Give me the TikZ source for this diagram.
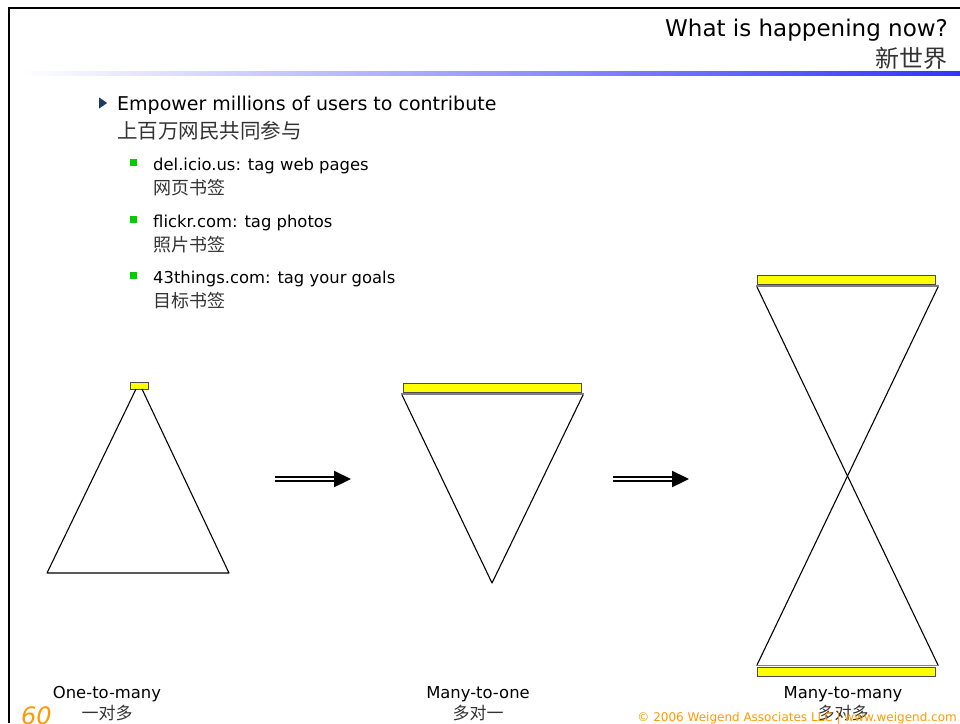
\documentclass[tikz,border=0pt]{standalone}
\usepackage{fontspec}
\setmainfont{DejaVu Sans}
\newfontfamily\cjk{Noto Sans CJK SC}
\usepackage{tikz}
\usetikzlibrary{arrows.meta, positioning, shapes.geometric}
\definecolor{slide-blue}{HTML}{3333FF}
\definecolor{slide-orange}{HTML}{FF9900}
\definecolor{tick-green}{HTML}{00CC00}
\definecolor{tick-navy}{HTML}{1F3864}
\definecolor{tag-yellow}{HTML}{FFFF00}

\begin{document}
\begin{tikzpicture}[x=1pt, y=-1pt,
    title/.style={inner sep=0pt, anchor=base east, font=\fontsize{23}{26}\selectfont},
    body/.style={inner sep=0pt, anchor=base west, font=\fontsize{19}{22}\selectfont},
    sub/.style={inner sep=0pt, anchor=base west, font=\fontsize{16.4}{19}\selectfont},
    zh/.style={inner sep=0pt, text=black!80},
    caption/.style={inner sep=0pt, anchor=base, font=\fontsize{16.4}{19}\selectfont},
    arrowhd/.style={draw=none, fill=tick-navy, isosceles triangle, isosceles triangle apex angle=70, minimum height=8pt, inner sep=0pt},
    square/.style={draw=none, fill=tick-green, minimum size=7pt, inner sep=0pt},
    tag/.style={draw=black!70, fill=tag-yellow, line width=1pt, inner sep=0pt, minimum width=178pt, minimum height=9pt},
    rim/.style={draw=black!50, line width=1.5pt},
    funnel/.style={draw=black, line width=1.1pt, line join=round},
    fatarrow/.style={draw=black, double=white, double distance=1.6pt, line width=2.3pt, -{Triangle[length=17pt, width=16pt]}}
]
    \useasboundingbox (0,0) rectangle (960,723);

    % Slide frame and header
    \draw[line width=2pt] (9,723) -- (9,8) -- (960,8);
    \shade[left color=white, right color=slide-blue] (20,71) rectangle (960,75);
    \node (head) [title] at (948,36) {What is happening now?};
    \node (headzh) [title, zh, font=\cjk\fontsize{24}{26}\selectfont] at (948,67) {新世界};

    % Bullet list
    \node (b0) [arrowhd] at (102,103) {};
    \node (l0) [body] at (117,110) {Empower millions of users to contribute};
    \node (l0zh) [zh, anchor=base west, font=\cjk\fontsize{20.5}{24}\selectfont] at (117,138) {上百万网民共同参与};

    \foreach \y/\en/\cn [count=\i] in {170/{del.icio.us: tag web pages}/网页书签,
                                     227/{flickr.com: tag photos}/照片书签,
                                     283/{43things.com: tag your goals}/目标书签} {
        \node (s\i) [square] at (133.5,\y-8) {};
        \node (l\i) [sub] at (153,\y) {\en};
        \node (l\i zh) [zh, anchor=base west, font=\cjk\fontsize{18}{21}\selectfont] at (153,\y+24) {\cn};
    }

    % One-to-many
    \node (t1) [tag, minimum width=18pt, minimum height=7pt] at (139,385.5) {};
    \draw[funnel] (136,389) -- (47,573) -- (229,573) -- (142,389);

    % Many-to-one
    \node (t2) [tag] at (492,387.5) {};
    \draw[rim] (401,394) -- (584,394);
    \draw[funnel] (402,395) -- (492,583) -- (583,395);

    % Many-to-many
    \node (t3) [tag] at (846,279.5) {};
    \draw[rim] (756,286) -- (939,286);
    \draw[funnel] (757,287) -- (938,665);
    \draw[funnel] (938,287) -- (757,665);
    \draw[rim] (756,665.5) -- (939,665.5);
    \node (t4) [tag] at (846,671.5) {};

    % Arrows between the figures
    \coordinate (a1s) at (275,479);
    \coordinate (a1e) at (351,479);
    \coordinate (a2s) at (613,479);
    \coordinate (a2e) at (689,479);
    \draw[fatarrow] (a1s) -- (a1e);
    \draw[fatarrow] (a2s) -- (a2e);

    % Captions
    \foreach \x/\en/\cn [count=\k] in {107/One-to-many/一对多, 478/Many-to-one/多对一, 843/Many-to-many/多对多} {
        \node (c\k) [caption] at (\x,698) {\en};
        \node (c\k zh) [zh, anchor=base, font=\cjk\fontsize{17}{20}\selectfont] at (\x,719) {\cn};
    }

    % Footer
    \node (pg) [inner sep=0pt, anchor=base west, text=slide-orange, font=\fontsize{24}{26}\selectfont\itshape] at (21,724) {60};
    \node (foot) [inner sep=0pt, anchor=base east, text=slide-orange, font=\fontsize{12}{14}\selectfont] at (957,721) {© 2006 Weigend Associates LLC | www.weigend.com};
\end{tikzpicture}
\end{document}
